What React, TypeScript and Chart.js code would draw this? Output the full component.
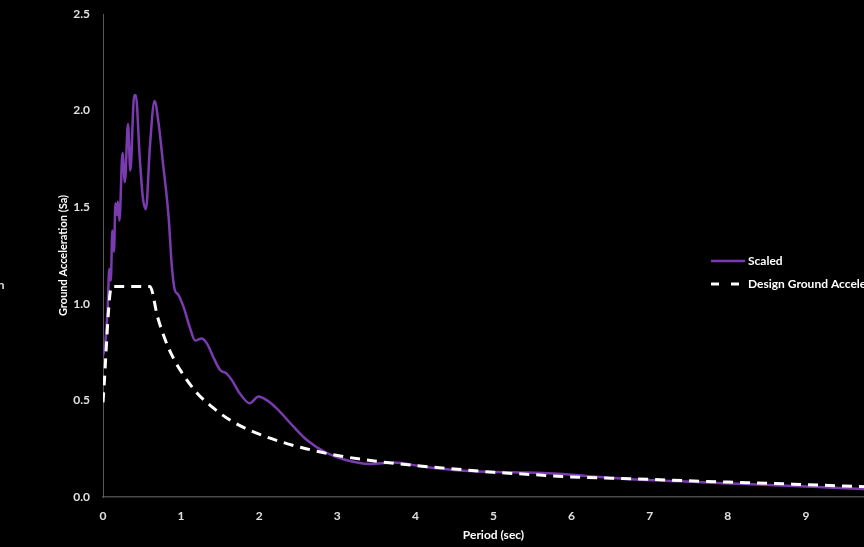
import React, { useEffect, useRef } from "react";
import { Chart, registerables } from "chart.js";

Chart.register(...registerables);

// Scaled response spectrum: period (sec) and spectral acceleration (Sa)
const scaledPeriods = [
  0, 0.03, 0.06, 0.08, 0.1, 0.12, 0.14, 0.16, 0.18, 0.19, 0.21, 0.25, 0.28, 0.32, 0.35,
  0.4, 0.42, 0.47, 0.51, 0.55, 0.6, 0.66, 0.71, 0.77, 0.84, 0.88, 0.92, 0.96, 1.03, 1.11,
  1.18, 1.26, 1.33, 1.41, 1.5, 1.58, 1.65, 1.75, 1.88, 1.99, 2.1, 2.22, 2.44, 2.61, 2.86,
  3.12, 3.42, 3.72, 4.1, 4.61, 5.25, 5.77, 6.19, 6.75, 7.39, 8.24, 9.09, 9.73, 10,
];
const scaledSa = [
  0.73, 0.8, 0.98, 1.18, 1.12, 1.38, 1.27, 1.52, 1.46, 1.53, 1.43, 1.78, 1.63, 1.93, 1.69,
  2.08, 2.08, 1.76, 1.55, 1.49, 1.81, 2.05, 1.94, 1.72, 1.45, 1.2, 1.07, 1.05, 0.985, 0.88,
  0.81, 0.82, 0.795, 0.726, 0.657, 0.64, 0.605, 0.537, 0.485, 0.52, 0.5, 0.46, 0.364, 0.295, 0.229,
  0.19, 0.171, 0.178, 0.157, 0.136, 0.128, 0.122, 0.109, 0.092, 0.081, 0.067, 0.053, 0.041, 0.038,
];

// Design ground acceleration spectrum
const designPeriods = [
  0, 0.11, 0.6, 0.7, 0.8, 0.9, 1.0, 1.2, 1.4, 1.6, 1.8, 2.0, 2.3, 2.6, 3.0, 3.5, 4.0, 4.5,
  5.0, 5.5, 6.0, 6.5, 7.0, 7.5, 8.0, 8.5, 9.0, 9.5, 10.0,
];
const designSa = [
  0.49, 1.09, 1.09, 0.93, 0.81, 0.72, 0.65, 0.54, 0.465, 0.405, 0.36, 0.325, 0.283, 0.25,
  0.215, 0.185, 0.163, 0.145, 0.128, 0.116, 0.104, 0.097, 0.091, 0.084, 0.077, 0.071, 0.064,
  0.057, 0.05,
];

const seriesLabels = ["Scaled", "Design Ground Acceleration"];
const xAxisTitle = "Period (sec)";
const yAxisTitle = "Ground Acceleration (Sa)";
const xRange = [0, 10];
const yRange = [0, 2.5];
const edgeFragment = "Design Ground Acceleration";

const FONT = "Lato, 'Open Sans', sans-serif";
const PURPLE = "#7b3bb0";

const overlayPlugin = {
  id: "overlay",
  beforeDraw(chart: any) {
    const ctx = chart.ctx;
    ctx.save();
    ctx.fillStyle = "#000";
    ctx.fillRect(0, 0, chart.width, chart.height);
    ctx.restore();
  },
  afterDraw(chart: any) {
    const ctx = chart.ctx;
    ctx.save();
    ctx.font = `bold 12px ${FONT}`;
    ctx.textBaseline = "middle";
    // legend
    const rows = [
      { y: 261, idx: 0 },
      { y: 284, idx: 1 },
    ];
    rows.forEach((r) => {
      const ds = chart.data.datasets[r.idx];
      ctx.beginPath();
      ctx.strokeStyle = ds.borderColor;
      ctx.lineWidth = ds.borderWidth;
      ctx.setLineDash(r.idx === 1 ? [8, 12] : []);
      ctx.lineCap = "butt";
      ctx.moveTo(711, r.y);
      ctx.lineTo(745, r.y);
      ctx.stroke();
      ctx.setLineDash([]);
      ctx.fillStyle = "#ffffff";
      ctx.textAlign = "left";
      ctx.fillText(ds.label, 748, r.y);
    });
    // fragment of neighbouring text at the left edge
    ctx.textAlign = "right";
    ctx.fillStyle = "#e6e6e6";
    ctx.fillText(edgeFragment, 4.5, 285);
    ctx.restore();
  },
};

export default function App() {
  const ref = useRef<HTMLCanvasElement | null>(null);

  useEffect(() => {
    document.body.style.margin = "0";
    document.body.style.overflow = "hidden";
    document.body.style.background = "#000";
    const canvas = ref.current!;
    const chart = new Chart(canvas, {
      type: "line",
      data: {
        datasets: [
          {
            label: seriesLabels[0],
            data: scaledPeriods.map((x, i) => ({ x, y: scaledSa[i] })),
            borderColor: PURPLE,
            borderWidth: 2.5,
            pointRadius: 0,
            cubicInterpolationMode: "monotone",
            fill: false,
            order: 2,
          },
          {
            label: seriesLabels[1],
            data: designPeriods.map((x, i) => ({ x, y: designSa[i] })),
            borderColor: "#ffffff",
            borderWidth: 3,
            borderDash: [10, 7],
            pointRadius: 0,
            cubicInterpolationMode: "monotone",
            fill: false,
            order: 1,
          },
        ],
      },
      options: {
        animation: false,
        responsive: false,
        devicePixelRatio: 1,
        layout: { autoPadding: false, padding: { left: 0, top: 14, right: 26, bottom: 0 } },
        plugins: {
          legend: { display: false },
          tooltip: { enabled: false },
        },
        scales: {
          x: {
            type: "linear",
            min: xRange[0],
            max: xRange[1],
            grid: { display: false, drawTicks: false },
            border: { display: true, color: "#4a4a4a", width: 1.5 },
            ticks: {
              stepSize: 1,
              padding: 12,
              color: "#e0e0e0",
              font: { family: FONT, size: 12, weight: "bold" },
              maxRotation: 0,
            },
            title: {
              display: true,
              text: xAxisTitle,
              color: "#ffffff",
              font: { family: FONT, size: 12, weight: "bold" },
              padding: { top: 0, bottom: 5 },
            },
            afterFit: (s: any) => {
              s.height = 50;
              s.paddingLeft = 0;
              s.paddingRight = 0;
            },
          },
          y: {
            type: "linear",
            min: yRange[0],
            max: yRange[1],
            grid: { display: false, drawTicks: false },
            border: { display: true, color: "#595959", width: 1 },
            ticks: {
              stepSize: 0.5,
              padding: 13,
              color: "#e0e0e0",
              font: { family: FONT, size: 12, weight: "bold" },
              callback: (v: any) => Number(v).toFixed(1),
            },
            title: {
              display: true,
              text: yAxisTitle,
              color: "#ffffff",
              font: { family: FONT, size: 11, weight: "bold" },
              padding: { top: 57, bottom: 0 },
            },
            afterFit: (s: any) => {
              s.width = 103;
              s.paddingTop = 0;
              s.paddingBottom = 0;
            },
          },
        },
      },
      plugins: [overlayPlugin],
    } as any);
    return () => chart.destroy();
  }, []);

  return (
    <div
      style={{
        position: "fixed",
        left: 0,
        top: 0,
        width: 864,
        height: 547,
        overflow: "hidden",
        background: "#000",
      }}
    >
      <canvas ref={ref} width={910} height={547} style={{ display: "block" }} />
    </div>
  );
}
